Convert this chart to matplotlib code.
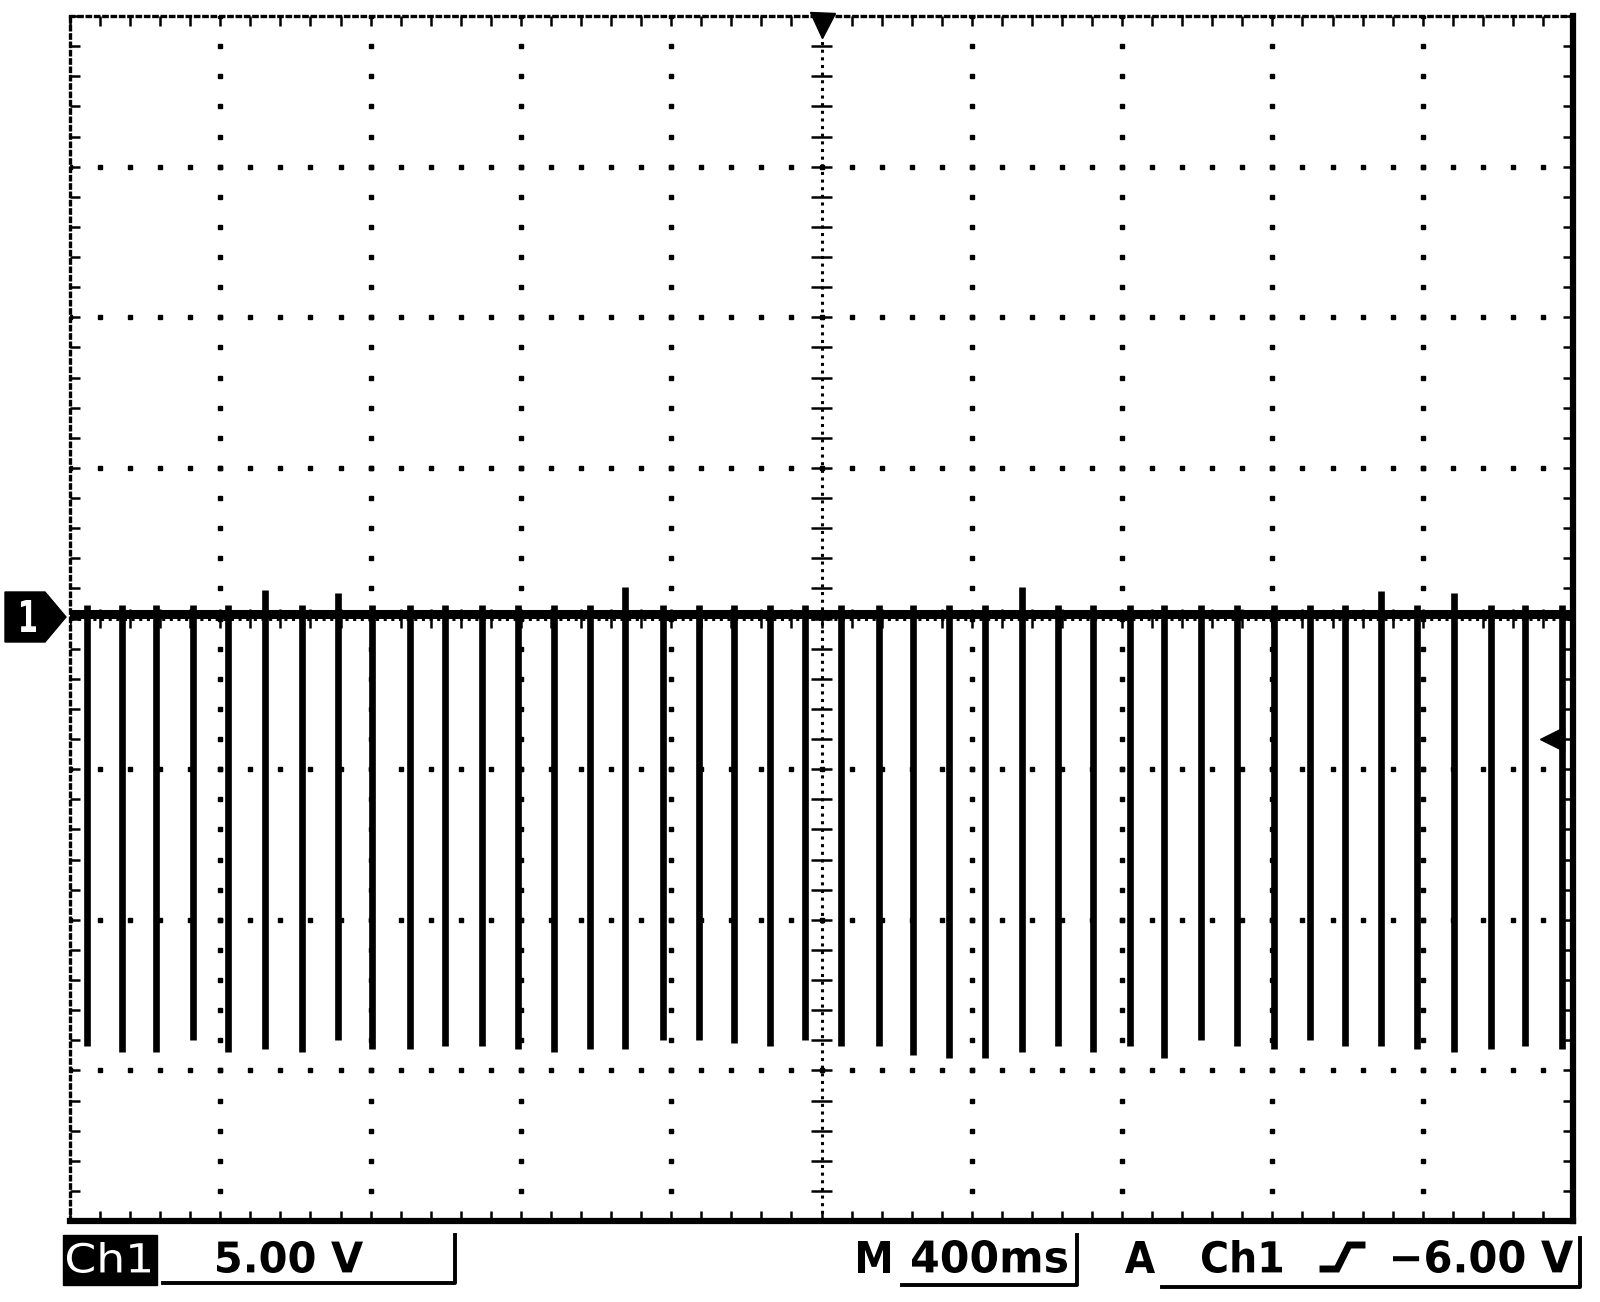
"""
    Oscilloscope capture: Ch1 pulse train, 5 V/div, 400 ms/div
"""

import numpy as np
import matplotlib.pyplot as plt
import matplotlib.transforms as mtransforms
from matplotlib.lines import Line2D
from matplotlib.patches import Polygon, Rectangle, PathPatch
from matplotlib.textpath import TextPath
from matplotlib.font_manager import FontProperties

# pulse times (ms) and the low level each pulse reaches (V)
pulse_t = [45, 138, 230, 328, 420, 520, 618, 714, 804, 905, 998, 1097, 1193, 1288,
           1383, 1478, 1577, 1674, 1766, 1862, 1957, 2053, 2152, 2244, 2338, 2434,
           2533, 2629, 2723, 2822, 2912, 3009, 3106, 3204, 3300, 3393, 3490, 3584,
           3683, 3781, 3873, 3970]
pulse_low = [-14.2, -14.4, -14.4, -14.0, -14.4, -14.3, -14.4, -14.0, -14.3, -14.3,
             -14.2, -14.2, -14.3, -14.4, -14.3, -14.3, -14.0, -14.0, -14.1, -14.2,
             -14.0, -14.2, -14.2, -14.5, -14.6, -14.6, -14.4, -14.2, -14.4, -14.2,
             -14.6, -14.0, -14.2, -14.3, -14.0, -14.2, -14.2, -14.3, -14.4, -14.3,
             -14.2, -14.3]
# small overshoot above the baseline at each pulse (V)
overshoot = [0.3, 0.3, 0.3, 0.3, 0.3, 0.8, 0.3, 0.7, 0.3, 0.3,
             0.3, 0.3, 0.3, 0.3, 0.3, 0.9, 0.3, 0.3, 0.3, 0.3,
             0.3, 0.3, 0.3, 0.3, 0.3, 0.3, 0.9, 0.3, 0.3, 0.3,
             0.3, 0.3, 0.3, 0.3, 0.3, 0.3, 0.75, 0.3, 0.7, 0.3,
             0.3, 0.3]
baseline_v = 0.15
trig_level = -4.0

W, H = 1600, 1302


def fx(px):
    return px / W


def fy(py):
    return 1 - py / H


fig = plt.figure(figsize=(16, 13.02), dpi=100)


# text squeezed into a box given in image pixels (x0..x1, top..bottom of the ink)
def box_text(s, x0, x1, top, bottom, color='black', weight='bold'):
    tp = TextPath((0, 0), s, size=100,
                  prop=FontProperties(family='DejaVu Sans', weight=weight))
    ext = tp.get_extents()
    tr = (mtransforms.Affine2D()
          .translate(-ext.x0, -ext.y0)
          .scale((x1 - x0) / ext.width / W, (bottom - top) / ext.height / H)
          .translate(fx(x0), fy(bottom))
          + fig.transFigure)
    fig.add_artist(PathPatch(tp, facecolor=color, edgecolor='none', transform=tr))


ax = fig.add_axes([fx(70), fy(1221), fx(1573) - fx(70), fy(16) - fy(1221)])
ax.set_xlim(0, 4000)
ax.set_ylim(-20, 20)

# border ticks every 0.2 div
ax.set_xticks(np.arange(0, 4001, 80))
ax.set_yticks(np.arange(-20, 21, 1))
ax.tick_params(direction='in', length=7, width=1.8, top=True, right=True,
               labelbottom=False, labelleft=False)
for s in ['top', 'left']:
    ax.spines[s].set_linestyle((0, (1, 1.5)))
    ax.spines[s].set_linewidth(2.4)
for s in ['bottom', 'right']:
    ax.spines[s].set_linewidth(4.5)

# dotted graticule
dot = dict(ls='none', marker='s', ms=2.8, color='black')
for i in range(1, 10):
    if i == 5:
        continue
    yy = np.arange(-20, 21, 1)
    ax.plot(np.full(len(yy), i * 400), yy, **dot)
for j in range(-3, 4):
    if j == 0:
        continue
    xx = np.arange(0, 4001, 80)
    ax.plot(xx, np.full(len(xx), j * 5), **dot)

# centre cross lines with small cross ticks
ax.plot([2000, 2000], [-20, 20], color='black', lw=2.2, ls=(0, (1, 1.5)))
ax.plot([0, 4000], [0, 0], color='black', lw=2.2, ls=(0, (1, 1.5)))
yy = np.arange(-20, 21, 1)
ax.hlines(yy, 1973, 2027, color='black', lw=1.8)
xx = np.arange(0, 4001, 80)
ax.vlines(xx, -0.33, 0.33, color='black', lw=1.8)

# trace: baseline plus the negative pulses
ax.plot([0, 4000], [baseline_v, baseline_v], color='black', lw=6.5,
        solid_capstyle='butt')
tops = [baseline_v + o for o in overshoot]
ax.vlines(pulse_t, pulse_low, tops, color='black', lw=4.8)

# trigger position and level markers
ax.plot(2000, 19.7, marker='v', ms=18, color='black', clip_on=False)
ax.plot(3945, trig_level, marker='<', ms=17, color='black', clip_on=False)

# channel 1 ground marker
fig.add_artist(Polygon([(fx(5), fy(592)), (fx(45), fy(592)), (fx(66), fy(617)),
                        (fx(45), fy(642)), (fx(5), fy(642))],
                       closed=True, color='black', transform=fig.transFigure))
box_text('1', 21, 36, 600, 632, color='white')

# status line
fig.add_artist(Rectangle((fx(63), fy(1285)), fx(157) - fx(63), fy(1235) - fy(1285),
                         color='black', transform=fig.transFigure))
box_text('Ch1', 67, 150, 1242, 1273, color='white', weight='normal')
box_text('5.00 V', 217, 363, 1241, 1273)
box_text('M', 858, 890, 1241, 1273)
box_text('400ms', 912, 1067, 1240, 1273)
box_text('A', 1125, 1155, 1241, 1273)
box_text('Ch1', 1202, 1282, 1240, 1273)
box_text('\u22126.00 V', 1393, 1573, 1240, 1273)

# brackets under the readouts and the rising-edge symbol
segs = [
    ([163, 455, 455], [1283, 1283, 1235]),
    ([902, 1077, 1077], [1285, 1285, 1235]),
    ([1162, 1580, 1580], [1287, 1287, 1238]),
]
for xs, ys in segs:
    fig.add_artist(Line2D([fx(v) for v in xs], [fy(v) for v in ys], color='black',
                          lw=2.8, transform=fig.transFigure))
fig.add_artist(Line2D([fx(1323), fx(1337), fx(1349), fx(1362)],
                      [fy(1269), fy(1269), fy(1245), fy(1245)], color='black',
                      lw=5, solid_joinstyle='miter', transform=fig.transFigure))

fig.savefig('out.png', dpi=100)
